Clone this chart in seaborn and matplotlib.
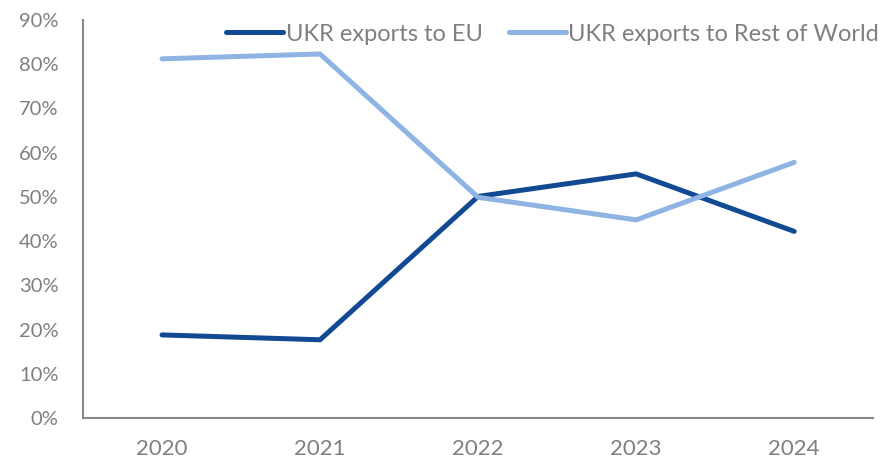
import matplotlib
matplotlib.use("Agg")
import matplotlib.pyplot as plt
import seaborn as sns
import pandas as pd
from matplotlib.ticker import FixedLocator, PercentFormatter
from matplotlib.lines import Line2D

years = ["2020", "2021", "2022", "2023", "2024"]
eu = [0.188, 0.177, 0.501, 0.552, 0.422]
row = [0.812, 0.823, 0.499, 0.448, 0.578]
series_names = ["UKR exports to EU", "UKR exports to Rest of World"]
colors = ["#114a93", "#8db4e2"]

df = pd.DataFrame({
    "x": list(range(len(years))) * 2,
    "value": eu + row,
    "series": [series_names[0]] * len(years) + [series_names[1]] * len(years),
})

sns.set_theme(style="white")
plt.rcParams['font.family'] = ['Lato', 'DejaVu Sans']

grey = "#7f7f7f"
fig = plt.figure(figsize=(8.81, 4.63), dpi=100)
ax = fig.add_axes([0.0942, 0.097, 0.897, 0.86])
sns.lineplot(data=df, x="x", y="value", hue="series",
             palette=colors, linewidth=3.6, ax=ax, legend=False)
for l in ax.lines:
    l.set_solid_capstyle("round")

ax.set_xlim(-0.5, len(years) - 0.5)
ax.set_ylim(0, 0.9)
ax.yaxis.set_major_locator(FixedLocator([i / 10 for i in range(10)]))
ax.yaxis.set_major_formatter(PercentFormatter(1.0, decimals=0))
ax.xaxis.set_major_locator(FixedLocator([i - 0.5 for i in range(len(years) + 1)]))
ax.xaxis.set_major_formatter(plt.NullFormatter())
ax.xaxis.set_minor_locator(FixedLocator(list(range(len(years)))))
ax.set_xticklabels(years, minor=True)
ax.tick_params(axis="x", which="major", direction="out", length=5, width=1.3, color="#898989")
ax.tick_params(axis="x", which="minor", length=0, pad=15, labelsize=16, labelcolor=grey)
ax.tick_params(axis="y", direction="out", length=6.5, width=1.3, color="#898989",
               labelsize=14.5, labelcolor=grey, pad=11)
ax.set_xlabel("")
ax.set_ylabel("")
for s in ["top", "right"]:
    ax.spines[s].set_visible(False)
for s in ["left", "bottom"]:
    ax.spines[s].set_color("#898989")
    ax.spines[s].set_linewidth(1.5)

handles = [Line2D([], [], color=c, linewidth=3.6, solid_capstyle="round") for c in colors]
fig.legend(handles, series_names, loc="upper right", bbox_to_anchor=(1.022, 0.995),
           ncol=2, frameon=False, fontsize=17, labelcolor=grey,
           handlelength=2.4, handletextpad=0.12, columnspacing=1.1)

fig.savefig("out.png", dpi=100)
